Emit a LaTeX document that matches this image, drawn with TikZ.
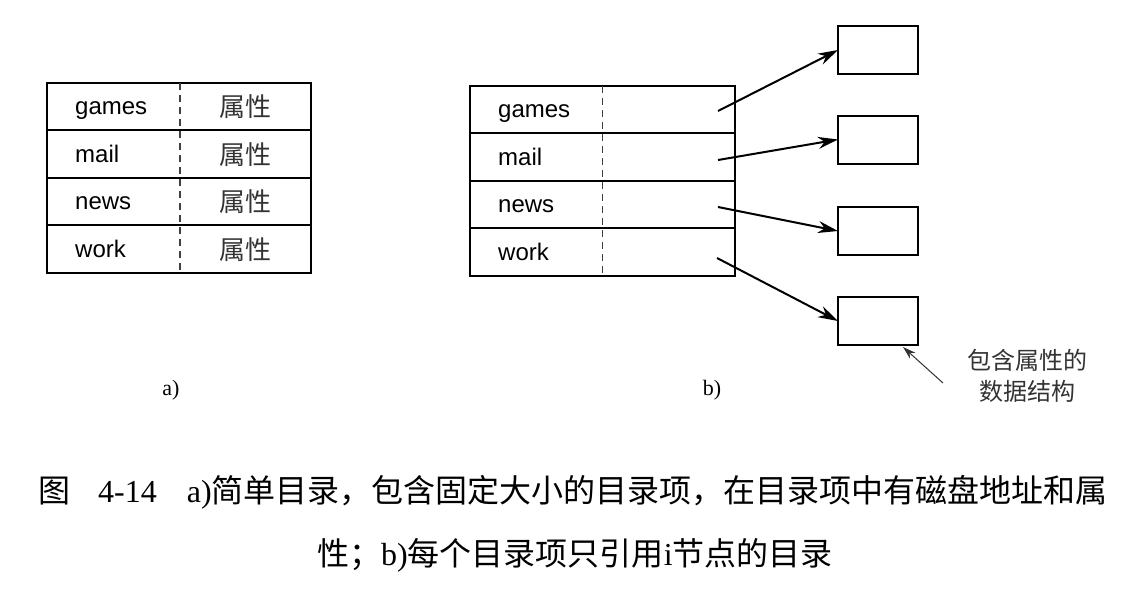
\documentclass[tikz,border=0pt]{standalone}
\usepackage{fontspec}
\setmainfont{Liberation Serif}
\setsansfont{Liberation Sans}
\newfontfamily\cjk{Noto Sans CJK SC}
\usetikzlibrary{arrows.meta,positioning}

\tikzset{
  dirrow/.style={draw, line width=2pt, minimum height=47.5pt, inner sep=0pt, outer sep=0pt},
  divider/.style={dashed, dash pattern=on 7pt off 5pt, line width=1.1pt, black!75},
  entry/.style={font=\sffamily\fontsize{24}{29}\selectfont, inner sep=0pt, anchor=base west},
  attr/.style={font=\cjk\fontsize{26}{31}\selectfont, inner sep=0pt, anchor=base, black!80},
  attrbox/.style={draw, line width=2pt, minimum width=80pt, minimum height=48pt, inner sep=0pt, outer sep=0pt},
  ptr/.style={line width=2pt, -{Stealth[length=20pt,width=12pt]}},
  noteptr/.style={line width=1pt, black!80, -{Stealth[length=13pt,width=8pt]}},
  note/.style={font=\cjk\fontsize{24}{31}\selectfont, align=center, inner sep=0pt, black!80},
  sublabel/.style={font=\fontsize{22}{26}\selectfont, inner sep=0pt},
  caption/.style={font=\fontsize{32}{40}\selectfont, inner sep=0pt}
}

\begin{document}
\begin{tikzpicture}[x=1pt,y=-1pt]
        \useasboundingbox (0,0) rectangle (1142,590);

         % a) fixed size entries
        \node[dirrow, minimum width=264pt] (a1) at (179,106.5) {};
        \node[dirrow, minimum width=264pt, below=0pt of a1] (a2) {};
        \node[dirrow, minimum width=264pt, below=0pt of a2] (a3) {};
        \node[dirrow, minimum width=264pt, below=0pt of a3] (a4) {};
        \draw[divider] ([xshift=1pt]a1.north) -- ([xshift=1pt]a4.south);

        \node[entry] (agames) at (75,114.5) {games};
        \node[entry] (amail) at (75,162) {mail};
        \node[entry] (anews) at (75,209.5) {news};
        \node[entry] (awork) at (75,257) {work};
        \node[attr] (aattr1) at (245,116.5) {属性};
        \node[attr] (aattr2) at (245,164) {属性};
        \node[attr] (aattr3) at (245,211.5) {属性};
        \node[attr] (aattr4) at (245,259) {属性};

        \node[sublabel] (la) at (171,390) {a)};

         % b) entries pointing to i-nodes
        \node[dirrow, minimum width=265pt] (b1) at (602.5,109.5) {};
        \node[dirrow, minimum width=265pt, below=0pt of b1] (b2) {};
        \node[dirrow, minimum width=265pt, below=0pt of b2] (b3) {};
        \node[dirrow, minimum width=265pt, below=0pt of b3] (b4) {};
        \draw[divider] (b1.north) -- (b4.south);

        \node[entry] (bgames) at (498,117.5) {games};
        \node[entry] (bmail) at (498,165) {mail};
        \node[entry] (bnews) at (498,212.5) {news};
        \node[entry] (bwork) at (498,260) {work};

        \node[attrbox] (c1) at (878,50) {};
        \node[attrbox] (c2) at (878,139.5) {};
        \node[attrbox] (c3) at (878,231) {};
        \node[attrbox] (c4) at (878,321) {};

        \coordinate (p1) at (718,111);
        \coordinate (p2) at (718,160);
        \coordinate (p3) at (718,207);
        \coordinate (p4) at (717,258);
        \draw[ptr] (p1) -- (c1.west);
        \draw[ptr] (p2) -- (c2.west);
        \draw[ptr] (p3) -- (c3.west);
        \draw[ptr] (p4) -- (c4.west);

         % note
        \node[note] (lbl) at (1027,376) {包含属性的\\数据结构};
        \coordinate (q) at (943,383);
        \draw[noteptr] (q) -- ([xshift=-15pt,yshift=-2pt]c4.south east);

        \node[sublabel] (lb) at (712,390) {b)};

         % caption
        \node[caption, anchor=base west] (cap1) at (38,502)
          {{\cjk 图}\hspace{28pt}4-14\hspace{30pt}a){\cjk 简单目录，包含固定大小的目录项，在目录项中有磁盘地址和属}};
        \node[caption, anchor=base] (cap2) at (575,565)
          {{\cjk 性；}b){\cjk 每个目录项只引用}i{\cjk 节点的目录}};
      \end{tikzpicture}
\end{document}
